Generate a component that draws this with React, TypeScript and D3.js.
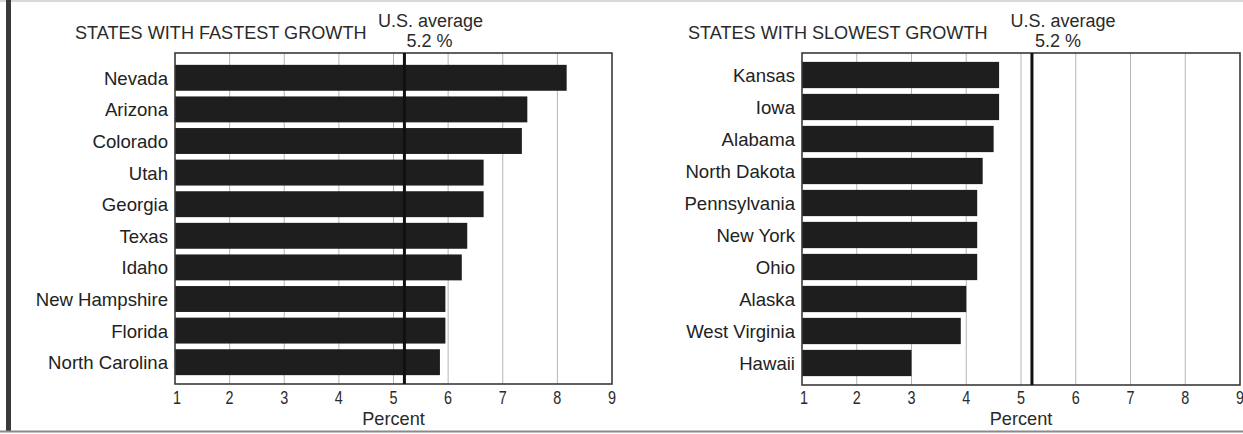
import React from "react";
import * as d3 from "d3";

const fastStates = ["Nevada", "Arizona", "Colorado", "Utah", "Georgia", "Texas", "Idaho", "New Hampshire", "Florida", "North Carolina"];
const fastValues = [8.17, 7.45, 7.35, 6.65, 6.65, 6.35, 6.25, 5.95, 5.95, 5.85];
const slowStates = ["Kansas", "Iowa", "Alabama", "North Dakota", "Pennsylvania", "New York", "Ohio", "Alaska", "West Virginia", "Hawaii"];
const slowValues = [4.6, 4.6, 4.5, 4.3, 4.2, 4.2, 4.2, 4.0, 3.9, 3.0];
const tickValues = [1, 2, 3, 4, 5, 6, 7, 8, 9];
const usAverage = 5.2;
const titles = ["STATES WITH FASTEST GROWTH", "STATES WITH SLOWEST GROWTH"];

const SANS = "'Liberation Sans', Arial, Helvetica, sans-serif";

type PanelProps = {
  states: string[];
  values: number[];
  title: string;
  titleX: number;
  x0: number;
  x1: number;
  yTop: number;
  yBottom: number;
  frameTop: number;
  frameBottom: number;
  avgDx1: number;
  avgDx2: number;
};

function Panel({ states, values, title, titleX, x0, x1, yTop, yBottom, frameTop, frameBottom, avgDx1, avgDx2 }: PanelProps) {
  const x = d3.scaleLinear().domain([1, 9]).range([x0, x1]);
  const y = d3.scaleBand<string>().domain(states).range([yTop, yBottom]).paddingInner(0.18).paddingOuter(0.09);
  const avgX = x(usAverage);
  return (
    <g>
      <text x={titleX} y={39} fontFamily={SANS} fontSize={18.1} fill="#2a2a2a">{title}</text>
      <text x={avgX + avgDx1} y={27} textAnchor="middle" fontFamily={SANS} fontSize={18} fill="#2a2a2a">U.S. average</text>
      <text x={avgX + avgDx2} y={47} textAnchor="middle" fontFamily={SANS} fontSize={18} fill="#2a2a2a">{usAverage} %</text>
      {tickValues.slice(1, -1).map((t) => (
        <line key={"g" + t} x1={x(t)} x2={x(t)} y1={frameTop} y2={frameBottom} stroke="#b5b5b5" strokeWidth={1} />
      ))}
      {states.map((s, i) => (
        <rect key={s} x={x(1)} y={y(s)!} width={x(values[i]) - x(1)} height={y.bandwidth()} fill="#1e1e1e" />
      ))}
      {states.map((s) => (
        <text key={"l" + s} x={x0 - 7} y={y(s)! + y.bandwidth() / 2 + 7} textAnchor="end" fontFamily={SANS} fontSize={18.6} fill="#222">{s}</text>
      ))}
      <rect x={x0} y={frameTop} width={x1 - x0} height={frameBottom - frameTop} fill="none" stroke="#3a3a3a" strokeWidth={1.6} />
      <line x1={avgX} x2={avgX} y1={frameTop} y2={frameBottom} stroke="#111" strokeWidth={3} />
      {tickValues.map((t) => (
        <text key={"t" + t} transform={`translate(${x(t) + (t === 1 ? 2 : 0)},404) scale(0.8,1)`} textAnchor="middle" fontFamily={SANS} fontSize={18} fill="#2a2a2a">{t}</text>
      ))}
      <text x={(x0 + x1) / 2} y={425} textAnchor="middle" fontFamily={SANS} fontSize={18.2} fill="#2a2a2a">Percent</text>
    </g>
  );
}

export default function App() {
  return (
    <svg width={1243} height={434} style={{ position: "absolute", left: 0, top: 0, background: "#fff" }}>
      <rect x={0} y={0} width={1243} height={434} fill="#fff" />
      <line x1={0} x2={1243} y1={1} y2={1} stroke="#d8d8d8" strokeWidth={2} />
      <rect x={6} y={0} width={5} height={432} fill="#3a3a3a" />
      <line x1={0} x2={1243} y1={431.5} y2={431.5} stroke="#8a8a8a" strokeWidth={2} />
      <Panel states={fastStates} values={fastValues} title={titles[0]} titleX={75} x0={175} x1={612} yTop={62} yBottom={378} frameTop={53} frameBottom={384} avgDx1={26} avgDx2={25} />
      <Panel states={slowStates} values={slowValues} title={titles[1]} titleX={688} x0={802} x1={1240} yTop={59} yBottom={379} frameTop={53} frameBottom={385} avgDx1={31} avgDx2={26} />
    </svg>
  );
}
